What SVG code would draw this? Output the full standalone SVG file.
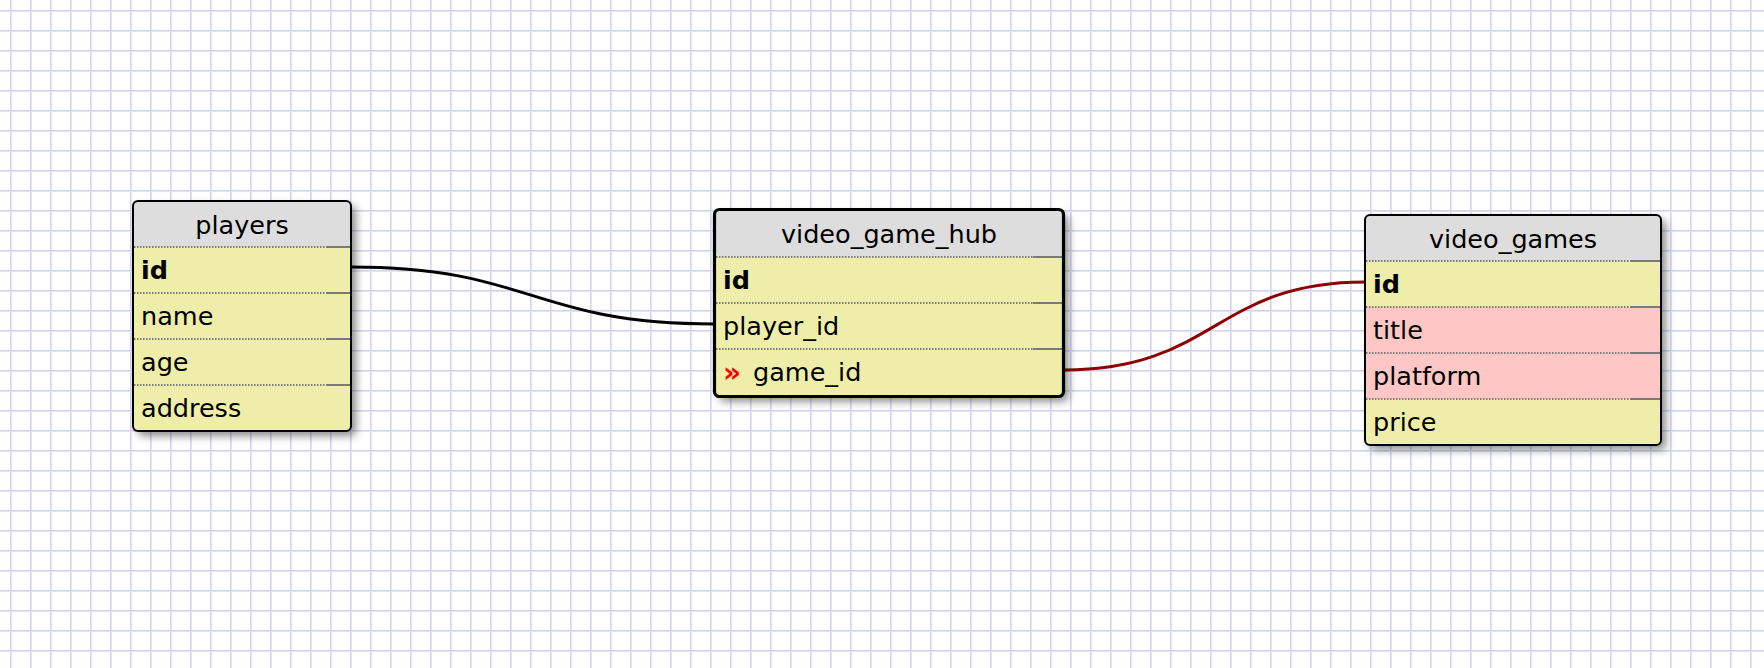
<svg xmlns="http://www.w3.org/2000/svg" width="1764" height="668" viewBox="0 0 1764 668">
  <defs>
    <pattern id="grid" x="0" y="0" width="20" height="20" patternUnits="userSpaceOnUse">
      <rect x="0" y="0" width="20" height="20" fill="#ffffff"/>
      <rect x="10" y="0" width="1" height="20" fill="#d2d2f0"/>
      <rect x="11" y="0" width="1" height="20" fill="#e4e4f7"/>
      <rect x="0" y="10" width="20" height="1" fill="#d2d2f0"/>
      <rect x="0" y="11" width="20" height="1" fill="#e4e4f7"/>
    </pattern>
    <filter id="shadow" x="-20%" y="-20%" width="140%" height="140%">
      <feDropShadow dx="5" dy="5" stdDeviation="4" flood-color="#000" flood-opacity="0.45"/>
    </filter>
  </defs>
  <style>
    .base { fill: #eeeeaa; filter: url(#shadow); }
    .hdr { fill: #dddddd; }
    .pink { fill: #ffc6c6; }
    .border { fill: none; stroke: #000; stroke-width: 2; }
    .border.sel { stroke-width: 3.2; }
    .dot { stroke: #7a7a7a; stroke-width: 2; stroke-dasharray: 1.5 1.5; fill: none; }
    .sol { stroke: #7a7a7a; stroke-width: 2; fill: none; }
    text { font-family: "DejaVu Sans", Verdana, sans-serif; font-size: 25.5px; fill: #000; }
    .title { text-anchor: middle; }
    .pk { font-weight: bold; }
    .fk { font-weight: bold; fill: #ff0000; font-size: 28px; }
    .conn { fill: none; stroke-width: 3; }
  </style>

  <rect x="0" y="0" width="1764" height="668" fill="url(#grid)"/>

  <g id="connectors">
    <path class="conn" stroke="#000000" d="M351,267 C532,267 532,324 714,324"/>
    <path class="conn" stroke="#8f0000" d="M1064,370 C1215,370 1215,282 1365,282"/>
  </g>

  <g id="players">
    <rect class="base" x="133" y="201" width="218" height="230" rx="5"/>
    <path class="hdr" d="M133,247 V206 a5,5 0 0 1 5,-5 H346 a5,5 0 0 1 5,5 V247 Z"/>
    <line class="dot" x1="134" y1="247" x2="327" y2="247"/>
    <line class="sol" x1="327" y1="247" x2="350" y2="247"/>
    <line class="dot" x1="134" y1="293" x2="327" y2="293"/>
    <line class="sol" x1="327" y1="293" x2="350" y2="293"/>
    <line class="dot" x1="134" y1="339" x2="327" y2="339"/>
    <line class="sol" x1="327" y1="339" x2="350" y2="339"/>
    <line class="dot" x1="134" y1="385" x2="327" y2="385"/>
    <line class="sol" x1="327" y1="385" x2="350" y2="385"/>
    <rect class="border" x="133" y="201" width="218" height="230" rx="5"/>
    <text class="title" x="242" y="234">players</text>
    <text class="pk" x="141" y="279">id</text>
    <text x="141" y="325">name</text>
    <text x="141" y="371">age</text>
    <text x="141" y="417">address</text>
  </g>

  <g id="video_game_hub">
    <rect class="base" x="714.5" y="209.5" width="349" height="187" rx="5"/>
    <path class="hdr" d="M714.5,257 V214.5 a5,5 0 0 1 5,-5 H1058.5 a5,5 0 0 1 5,5 V257 Z"/>
    <line class="dot" x1="716" y1="257" x2="1033" y2="257"/>
    <line class="sol" x1="1033" y1="257" x2="1062" y2="257"/>
    <line class="dot" x1="716" y1="303" x2="1033" y2="303"/>
    <line class="sol" x1="1033" y1="303" x2="1062" y2="303"/>
    <line class="dot" x1="716" y1="349" x2="1033" y2="349"/>
    <line class="sol" x1="1033" y1="349" x2="1062" y2="349"/>
    <rect class="border sel" x="714.5" y="209.5" width="349" height="187" rx="5"/>
    <text class="title" x="889" y="243">video_game_hub</text>
    <text class="pk" x="723" y="289">id</text>
    <text x="723" y="335">player_id</text>
    <text class="fk" x="723" y="382">»</text>
    <text x="753" y="381">game_id</text>
  </g>

  <g id="video_games">
    <rect class="base" x="1365" y="215" width="296" height="230" rx="5"/>
    <path class="hdr" d="M1365,261 V220 a5,5 0 0 1 5,-5 H1656 a5,5 0 0 1 5,5 V261 Z"/>
    <rect class="pink" x="1366" y="307" width="294" height="92"/>
    <line class="dot" x1="1366" y1="261" x2="1631" y2="261"/>
    <line class="sol" x1="1631" y1="261" x2="1660" y2="261"/>
    <line class="dot" x1="1366" y1="307" x2="1631" y2="307"/>
    <line class="sol" x1="1631" y1="307" x2="1660" y2="307"/>
    <line class="dot" x1="1366" y1="353" x2="1631" y2="353"/>
    <line class="sol" x1="1631" y1="353" x2="1660" y2="353"/>
    <line class="dot" x1="1366" y1="399" x2="1631" y2="399"/>
    <line class="sol" x1="1631" y1="399" x2="1660" y2="399"/>
    <rect class="border" x="1365" y="215" width="296" height="230" rx="5"/>
    <text class="title" x="1513" y="248">video_games</text>
    <text class="pk" x="1373" y="293">id</text>
    <text x="1373" y="339">title</text>
    <text x="1373" y="385">platform</text>
    <text x="1373" y="431">price</text>
  </g>
</svg>
